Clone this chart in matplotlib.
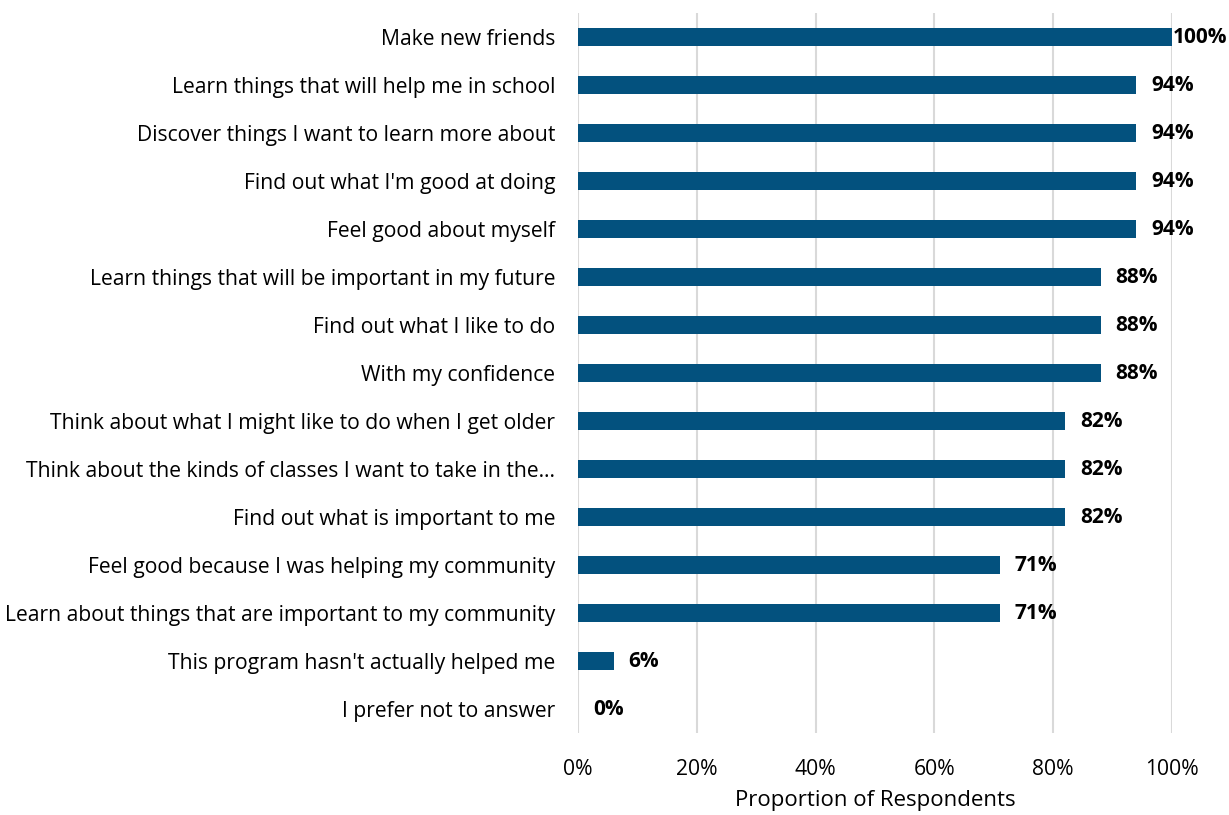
import matplotlib
matplotlib.use('agg')
import matplotlib.pyplot as plt
from matplotlib.ticker import PercentFormatter

plt.rcParams['font.family'] = ['Open Sans', 'DejaVu Sans']

# survey items, top to bottom
items = [
    "Make new friends",
    "Learn things that will help me in school",
    "Discover things I want to learn more about",
    "Find out what I'm good at doing",
    "Feel good about myself",
    "Learn things that will be important in my future",
    "Find out what I like to do",
    "With my confidence",
    "Think about what I might like to do when I get older",
    "Think about the kinds of classes I want to take in the\u2026",
    "Find out what is important to me",
    "Feel good because I was helping my community",
    "Learn about things that are important to my community",
    "This program hasn't actually helped me",
    "I prefer not to answer",
]
pct = [100, 94, 94, 94, 94, 88, 88, 88, 82, 82, 82, 71, 71, 6, 0]

bar_color = '#03517E'

fig = plt.figure(figsize=(12.29, 8.15), dpi=100)
ax = fig.add_axes([0.4703, 0.1006, 0.4833, 0.8834])

ypos = list(range(len(items)))
ax.barh(ypos, pct, height=0.36, color=bar_color, zorder=3)

for y, v in zip(ypos, pct):
    dx = 1 if v >= 100 else 15
    ax.annotate(f'{v}%', xy=(v, y), xytext=(dx, 0), textcoords='offset pixels',
                ha='left', va='center', fontsize=15, fontweight='bold', color='black')

ax.set_xlim(0, 100)
ax.set_ylim(len(items) - 0.5, -0.5)
ax.set_yticks(ypos)
ax.set_yticklabels(items, fontsize=15.2)
ax.set_xticks(range(0, 101, 20))
ax.xaxis.set_major_formatter(PercentFormatter(decimals=0))
ax.tick_params(axis='x', labelsize=15.2, length=0, pad=18.5)
ax.tick_params(axis='y', length=0, pad=16.5)
ax.grid(axis='x', color='#D9D9D9', linewidth=1.5, zorder=0)
for s in ax.spines.values():
    s.set_visible(False)

ax.set_xlabel('Proportion of Respondents', fontsize=16, labelpad=7.5)

plt.savefig('out.png', dpi=100)
